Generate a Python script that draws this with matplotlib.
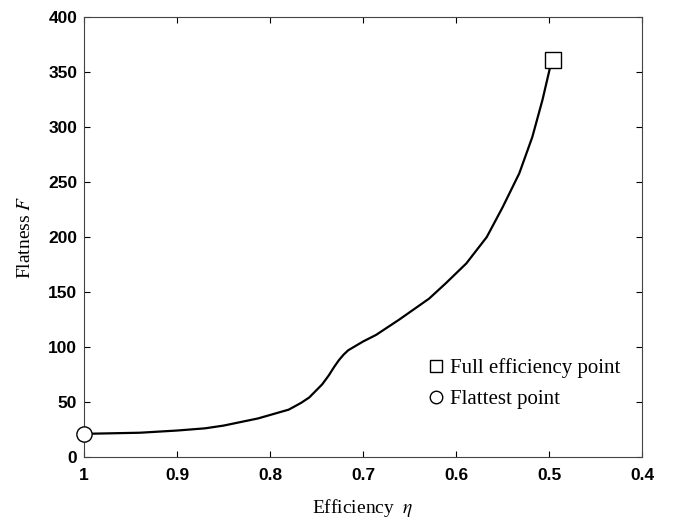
import matplotlib

matplotlib.use("Agg")
import matplotlib.pyplot as plt
from matplotlib.lines import Line2D

plt.rcParams["mathtext.fontset"] = "stix"

# curve (efficiency eta, flatness F)
efficiency = [1.0, 0.97, 0.94, 0.90, 0.87, 0.85, 0.813, 0.78, 0.767, 0.758, 0.751,
              0.744, 0.737, 0.731, 0.726, 0.721, 0.716, 0.710, 0.70, 0.686, 0.661,
              0.629, 0.611, 0.589, 0.567, 0.550, 0.532, 0.518, 0.507, 0.499, 0.496]
flatness = [21, 21.5, 22, 24, 26, 28.5, 35, 43, 49, 54, 60,
            66, 74, 82, 88, 93, 97, 100, 105, 111, 125,
            144, 158, 176, 200, 227, 258, 291, 325, 354, 361]

full_eff_point = (0.496, 361)
flattest_point = (1.0, 21)

x_ticks = [1, 0.9, 0.8, 0.7, 0.6, 0.5, 0.4]
x_tick_labels = ["1", "0.9", "0.8", "0.7", "0.6", "0.5", "0.4"]
y_ticks = [0, 50, 100, 150, 200, 250, 300, 350, 400]

serif = ["Liberation Serif", "DejaVu Serif"]
sans = ["Liberation Sans", "DejaVu Sans"]

fig = plt.figure(figsize=(6.73, 5.21), dpi=100)
ax = fig.add_axes([0.125, 0.123, 0.829, 0.844])

ax.plot(efficiency, flatness, color="black", lw=1.6, zorder=2)
ax.plot(*full_eff_point, marker="s", ms=11, mfc="white", mec="black", mew=1.0,
        ls="none", zorder=3, clip_on=False)
ax.plot(*flattest_point, marker="o", ms=11, mfc="white", mec="black", mew=1.0,
        ls="none", zorder=3, clip_on=False)

ax.set_xlim(1, 0.4)
ax.set_ylim(0, 400)
ax.set_xticks(x_ticks)
ax.set_xticklabels(x_tick_labels)
ax.set_yticks(y_ticks)

ax.tick_params(direction="in", length=4, width=0.8, top=True, right=True,
               colors="black")
ax.tick_params(axis="x", pad=8)
ax.tick_params(axis="y", pad=5)
for lab in ax.get_xticklabels() + ax.get_yticklabels():
    lab.set_family(sans)
    lab.set_fontweight("bold")
    lab.set_fontsize(12.5)
for sp in ax.spines.values():
    sp.set_linewidth(0.8)
    sp.set_color("#444444")

ax.set_xlabel(r"Efficiency  $\eta$", family=serif, fontsize=14, labelpad=10)
ax.set_ylabel(r"Flatness $F$", family=serif, fontsize=14, labelpad=10)

handles = [
    Line2D([], [], marker="s", ms=9, mfc="white", mec="black", mew=1.0, ls="none"),
    Line2D([], [], marker="o", ms=9, mfc="white", mec="black", mew=1.0, ls="none"),
]
ax.legend(handles, ["Full efficiency point", "Flattest point"], frameon=False,
          prop={"family": serif, "size": 15}, handlelength=0.6, handletextpad=0.35,
          labelspacing=0.55, loc="lower left", bbox_to_anchor=(0.605, 0.09),
          borderaxespad=0)

fig.savefig("out.png", dpi=100)
